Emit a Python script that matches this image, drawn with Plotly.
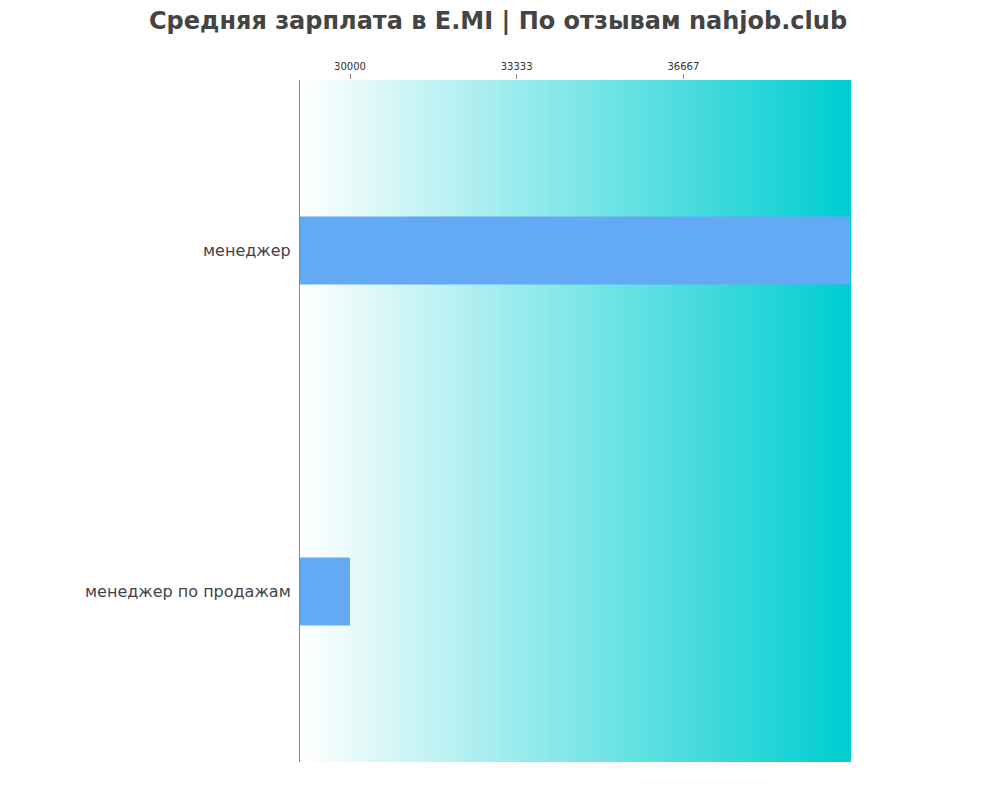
import plotly.graph_objects as go

categories = ["менеджер", "менеджер по продажам"]
salaries = [40000, 30000]
tick_vals = [30000, 33333, 36667]

fig = go.Figure()
fig.add_trace(go.Bar(
    x=salaries, y=categories, orientation="h",
    marker=dict(color="#63A9F4", line_width=0), width=0.2,
))

# background gradient white -> turquoise
n = 120
shapes = []
for i in range(n):
    t = i / (n - 1)
    r = int(255 + (0 - 255) * t)
    g = int(255 + (206 - 255) * t)
    b = int(255 + (209 - 255) * t)
    shapes.append(dict(
        type="rect", xref="x domain", yref="y domain",
        x0=i / n, x1=(i + 1) / n + 0.002, y0=0, y1=1,
        fillcolor=f"rgb({r},{g},{b})", line_width=0, layer="below",
    ))

fig.update_layout(
    width=1000, height=800,
    title=dict(text="<b>Средняя зарплата в E.MI | По отзывам nahjob.club</b>",
               x=0.49, xanchor="center", y=0.995, yanchor="top",
               font=dict(size=24, color="#444444", family="DejaVu Sans")),
    margin=dict(l=292, r=158, t=72, b=46),
    plot_bgcolor="white", paper_bgcolor="white",
    shapes=shapes,
    showlegend=False,
    xaxis=dict(side="top", range=[29000, 40000], tickvals=tick_vals,
               ticktext=[str(v) for v in tick_vals], showgrid=False,
               ticks="outside", ticklen=5, tickcolor="#888", automargin=False,
               tickfont=dict(size=10, color="#333", family="DejaVu Sans"),
               zeroline=False),
    yaxis=dict(autorange="reversed", showgrid=False, showline=True,
               linecolor="#888", linewidth=1, ticks="", automargin=False,
               tickfont=dict(size=16, color="#444", family="DejaVu Sans"),
               ticksuffix=" "),
)
fig.write_html("out.html")
